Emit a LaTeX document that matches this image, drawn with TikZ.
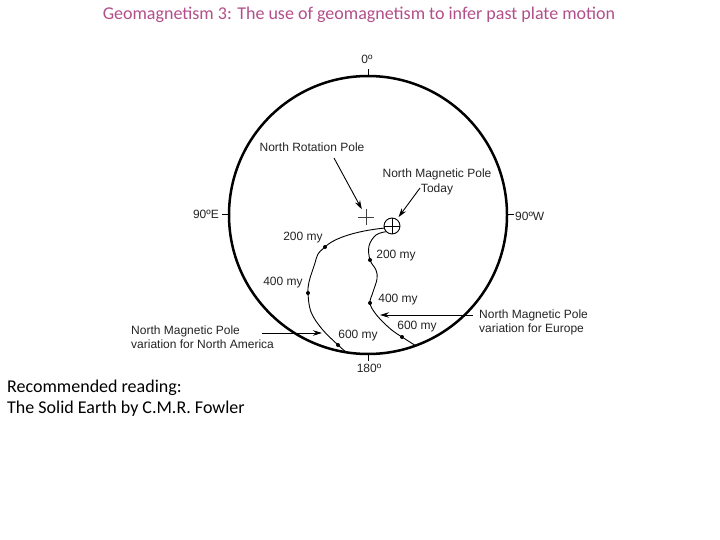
\documentclass[tikz,border=0pt]{standalone}
\usepackage{fontspec}
\setmainfont{Liberation Sans}
\newfontfamily\calib{Carlito}
\usetikzlibrary{arrows.meta,calc}
\definecolor{titlepink}{RGB}{178,78,138}
\definecolor{inkgray}{RGB}{35,35,35}
\begin{document}
\begin{tikzpicture}[x=1pt,y=-1pt,
  lbl/.style={font=\fontsize{12}{14}\selectfont, inner sep=0pt, text=inkgray},
  arr/.style={-{Stealth[length=9pt,width=5.5pt]}, line width=0.9pt},
  track/.style={line width=0.9pt},
  dot/.style={circle, fill=black, inner sep=0pt, minimum size=4pt},
  tickmark/.style={line width=1pt}]
\useasboundingbox (0,0) rectangle (720,540);

\node[font=\calib\fontsize{18}{21}\selectfont, text=titlepink, inner sep=0pt] (title) at (359,15)
  {Geomagnetism 3: The use of geomagnetism to infer past plate motion};

% globe
\node[circle, draw, line width=2.5pt, minimum size=278pt, inner sep=0pt, outer sep=0pt] (globe) at (368,215) {};
\draw[tickmark] (globe.north) -- ++(0,-7);
\draw[tickmark] (globe.south) -- ++(0,7);
\draw[tickmark] (globe.west) -- ++(-7,0);
\draw[tickmark] (globe.east) -- ++(7,0);
\node[lbl] (l0) at (367,59) {0º};
\node[lbl, anchor=east] (l90e) at (219,214) {90ºE};
\node[lbl, anchor=west] (l90w) at (515,216) {90ºW};
\node[lbl] (l180) at (369,368) {180º};

% poles
\node[minimum size=15pt, inner sep=0pt] (rp) at (366,217) {};
\draw[line width=0.8pt, black!75] (rp.north) -- (rp.south) (rp.west) -- (rp.east);
\node[circle, draw, minimum size=16pt, inner sep=0pt, outer sep=0pt, line width=0.9pt] (mp) at (392,226) {};
\draw[line width=0.8pt] (mp.north) -- (mp.south) (mp.west) -- (mp.east);

\node[lbl] (nrp) at (312,147) {North Rotation Pole};
\coordinate (nrpa) at (334,158);
\draw[arr] (nrpa) -- (rp);

\node[lbl, align=center, font=\fontsize{12}{15}\selectfont] (nmp) at (437,182) {North Magnetic Pole\\Today};
\coordinate (nmpa) at (420,188);
\draw[arr, shorten >=3pt] (nmpa) -- (mp);

% age dots
\node[dot] (na200) at (325,247) {};
\node[dot] (na400) at (308,293) {};
\node[dot] (na600) at (338,345) {};
\node[dot] (eu200) at (370,260) {};
\node[dot] (eu400) at (370,303) {};
\node[dot] (eu600) at (402,337) {};

% North America track
\draw[track] (mp.195) .. controls (356,231) and (334,238) .. (na200.center);
\draw[track] plot[smooth, tension=0.6] coordinates {(na200.center) (318,254) (315,263) (312,272) (309,282) (na400.center) (311,312) (322,329) (na600.center) (globe.261)};

% Europe track
\draw[track] plot[smooth, tension=0.6] coordinates {(mp.225) (376,235) (369,246) (eu200.center) (376,270) (377,279) (373,292) (eu400.center) (375,313) (384,323) (393,331) (eu600.center) (globe.290)};

% age labels
\node[lbl] (tna200) at (303,238) {200 my};
\node[lbl] (tna400) at (283,283) {400 my};
\node[lbl] (tna600) at (358,336) {600 my};
\node[lbl] (teu200) at (396,256) {200 my};
\node[lbl] (teu400) at (398,300) {400 my};
\node[lbl] (teu600) at (417,327) {600 my};

% side labels
\node[lbl, align=left, anchor=west] (nalbl) at (131,337) {North Magnetic Pole\\variation for North America};
\coordinate (naa) at (262,333);
\coordinate (natip) at (322,333);
\draw[arr] (naa) -- (natip);

\node[lbl, align=left, anchor=west] (eulbl) at (479,322) {North Magnetic Pole\\variation for Europe};
\coordinate (eua) at (473,315);
\coordinate (eutip) at (380,315);
\draw[arr] (eua) -- (eutip);

\node[font=\calib\fontsize{18}{21}\selectfont, align=left, anchor=west, inner sep=0pt] (reading) at (7,398)
  {Recommended reading:\\The Solid Earth by C.M.R. Fowler};
\end{tikzpicture}
\end{document}
